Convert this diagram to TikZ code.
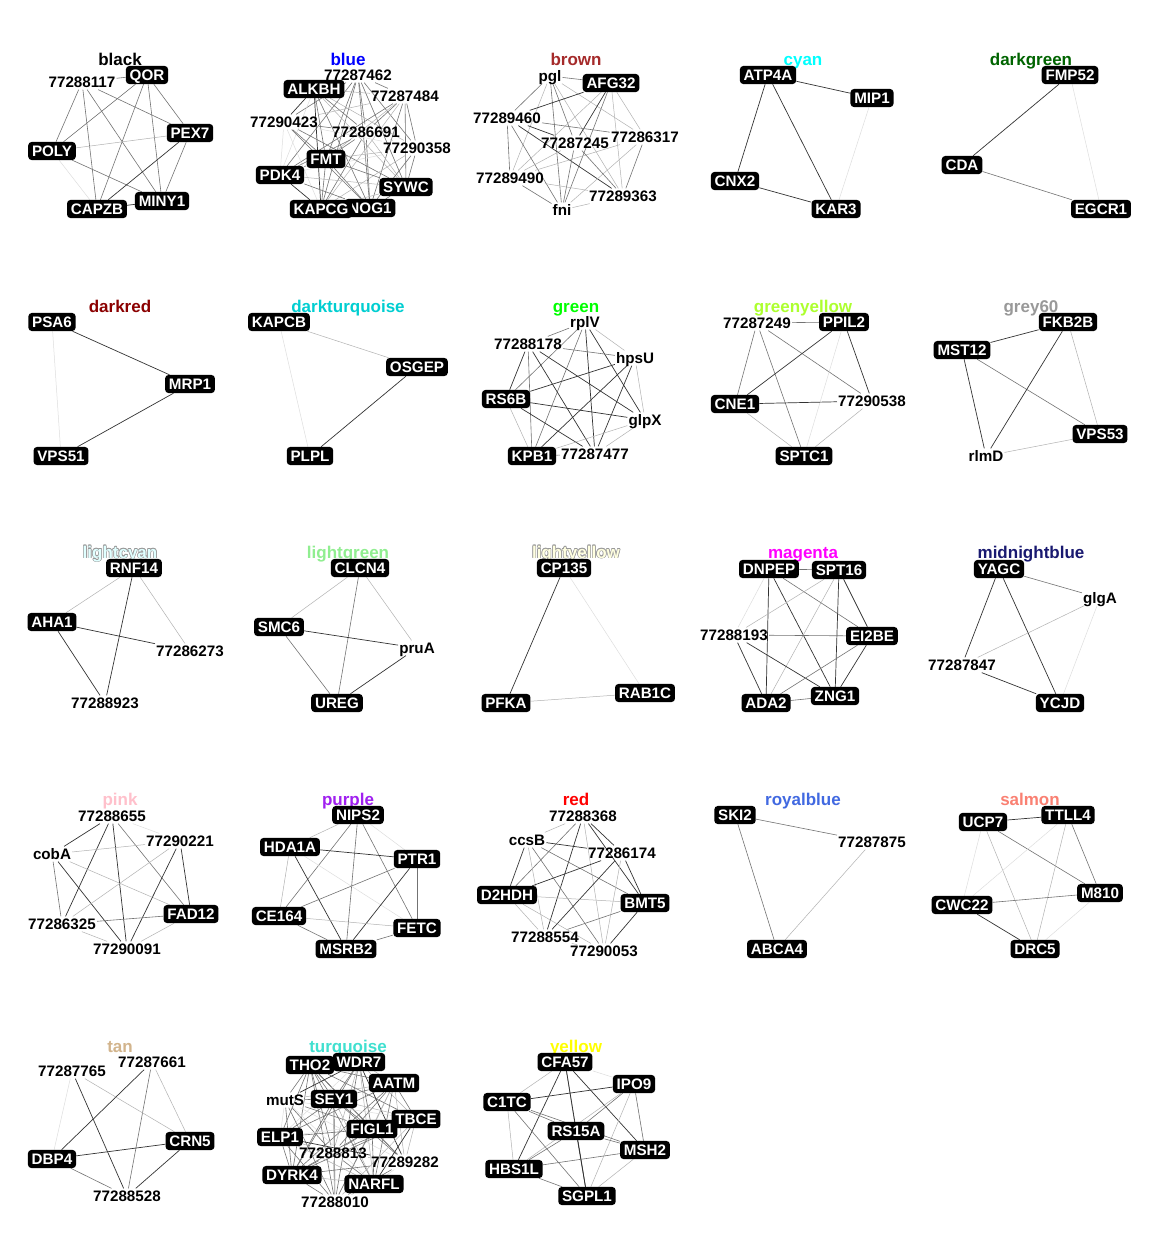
\documentclass[tikz,border=0pt]{standalone}
\usepackage{fontspec}
\setmainfont{Liberation Sans}
\usetikzlibrary{backgrounds}
\definecolor{cBrown}{HTML}{A52A2A}
\definecolor{cCyan}{HTML}{00FFFF}
\definecolor{cDarkgreen}{HTML}{006400}
\definecolor{cDarkred}{HTML}{8B0000}
\definecolor{cDarkturq}{HTML}{00CED1}
\definecolor{cGreen}{HTML}{00FF00}
\definecolor{cGreenyellow}{HTML}{ADFF2F}
\definecolor{cGrey}{HTML}{999999}
\definecolor{cLightcyan}{HTML}{E0FFFF}
\definecolor{cLightgreen}{HTML}{90EE90}
\definecolor{cLightyellow}{HTML}{FFFFE0}
\definecolor{cMagenta}{HTML}{FF00FF}
\definecolor{cMidnight}{HTML}{191970}
\definecolor{cPink}{HTML}{FFC0CB}
\definecolor{cPurple}{HTML}{A020F0}
\definecolor{cRed}{HTML}{FF0000}
\definecolor{cRoyal}{HTML}{4169E1}
\definecolor{cSalmon}{HTML}{FA8072}
\definecolor{cTan}{HTML}{D2B48C}
\definecolor{cTurq}{HTML}{40E0D0}
\definecolor{cYellow}{HTML}{FFFF00}
\definecolor{cBlue}{HTML}{0000FF}
% title drawn with a thin grey rim (for very pale module colours)
\newcommand\rimtitle[3]{%
  \foreach \dx/\dy in {0.6/0,-0.6/0,0/0.6,0/-0.6,0.45/0.45,-0.45/0.45,0.45/-0.45,-0.45/-0.45}
    {\node[ttl,text=black!40,xshift=\dx pt,yshift=\dy pt] at (#1) {#3};}
  \node[ttl,text=#2] at (#1) {#3};}
% all pairs among nodes #1-1 ... #1-#2, shade varying with the pair
\newcommand\allpairs[2]{%
  \pgfmathtruncatemacro\lastm{#2-1}%
  \foreach \i in {1,...,\lastm}{%
    \pgfmathtruncatemacro\nx{\i+1}%
    \foreach \j in {\nx,...,#2}{%
      \pgfmathtruncatemacro\k{mod(\i*7+\j*11+\i*\j,6)}%
      \ifcase\k \def\st{ed}\or\def\st{em}\or\def\st{el}\or\def\st{em}\or\def\st{ev}\else\def\st{el}\fi
      \draw[\st] (#1-\i) -- (#1-\j);}}}
\begin{document}
\begin{tikzpicture}[x=1pt,y=-1pt,
  gene/.style={fill=black,text=white,rounded corners=3.5pt,inner xsep=3.8pt,inner ysep=3.6pt,
    text height=10.9pt,text depth=0pt,font=\bfseries\fontsize{15.2}{16}\selectfont},
  lbl/.style={inner xsep=1pt,inner ysep=2pt,text height=10.9pt,text depth=0pt,
    font=\bfseries\fontsize{15.2}{16}\selectfont},
  ttl/.style={font=\bfseries\fontsize{17}{18}\selectfont,inner sep=0pt,anchor=base},
  ed/.style={draw=black!80,line width=0.7pt},
  em/.style={draw=black!55,line width=0.6pt},
  el/.style={draw=black!30,line width=0.5pt},
  ev/.style={draw=black!13,line width=0.5pt},
]
\begin{scope}[on background layer]
\fill[white] (0,0) rectangle (1152,1248);
\end{scope}
\useasboundingbox (0,0) rectangle (1152,1248);

% ---------------- black
\node[ttl,text=black] at (120,65) {black};
\node[lbl]  (k-n1)   at (82,82)   {77288117};
\node[gene] (k-qor)  at (147,75)  {QOR};
\node[gene] (k-pex)  at (190,133) {PEX7};
\node[gene] (k-poly) at (52,151)  {POLY};
\node[gene] (k-miny) at (162,201) {MINY1};
\node[gene] (k-capz) at (97,209)  {CAPZB};
\begin{scope}[on background layer]
\foreach \s/\a/\b in {em/k-n1/k-qor,em/k-n1/k-pex,em/k-n1/k-poly,em/k-n1/k-capz,em/k-n1/k-miny,
  em/k-qor/k-poly,em/k-qor/k-capz,em/k-qor/k-miny,em/k-qor/k-pex,el/k-poly/k-pex,em/k-poly/k-miny,
  ev/k-poly/k-capz,ed/k-pex/k-capz,em/k-pex/k-miny,ed/k-capz/k-miny}
  {\draw[\s] (\a) -- (\b);}
\end{scope}

% ---------------- blue
\node[ttl,text=cBlue] at (348,65) {blue};
\node[lbl]  (b-1)  at (358,75)  {77287462};
\node[gene] (b-2)  at (314,89)  {ALKBH};
\node[lbl]  (b-3)  at (405,96)  {77287484};
\node[lbl]  (b-4)  at (284,122) {77290423};
\node[lbl]  (b-5)  at (366,132) {77286691};
\node[lbl]  (b-6)  at (417,148) {77290358};
\node[gene] (b-7)  at (326,159) {FMT};
\node[gene] (b-8)  at (280,175) {PDK4};
\node[gene] (b-9)  at (406,187) {SYWC};
\node[gene] (b-11) at (370,208) {NOG1};
\node[gene] (b-10) at (321,209) {KAPCG};
\begin{scope}[on background layer]
\allpairs{b}{11}
\end{scope}

% ---------------- brown
\node[ttl,text=cBrown] at (576,65) {brown};
\node[lbl]  (br-pg) at (550,76)  {pgl};
\node[gene] (br-af) at (611,83)  {AFG32};
\node[lbl]  (br-a)  at (507,118) {77289460};
\node[lbl]  (br-b)  at (645,137) {77286317};
\node[lbl]  (br-c)  at (575,143) {77287245};
\node[lbl]  (br-d)  at (510,178) {77289490};
\node[lbl]  (br-e)  at (623,196) {77289363};
\node[lbl]  (br-f)  at (562,210) {fni};
\begin{scope}[on background layer]
\foreach \s/\a/\b in {em/br-pg/br-af,em/br-pg/br-a,em/br-pg/br-c,el/br-pg/br-b,el/br-pg/br-d,
  el/br-pg/br-e,em/br-pg/br-f,ed/br-af/br-a,ed/br-af/br-c,el/br-af/br-b,el/br-af/br-d,el/br-af/br-e,
  em/br-af/br-f,em/br-a/br-b,ed/br-a/br-c,em/br-a/br-d,ed/br-a/br-e,em/br-a/br-f,el/br-b/br-c,
  el/br-b/br-d,em/br-b/br-e,el/br-b/br-f,el/br-c/br-d,em/br-c/br-e,em/br-c/br-f,el/br-d/br-e,
  em/br-d/br-f,el/br-e/br-f}
  {\draw[\s] (\a) -- (\b);}
\end{scope}

% ---------------- cyan
\node[ttl,text=cCyan] at (803,65) {cyan};
\node[gene] (cy-atp) at (768,75)  {ATP4A};
\node[gene] (cy-mip) at (872,98)  {MIP1};
\node[gene] (cy-cnx) at (735,181) {CNX2};
\node[gene] (cy-kar) at (836,209) {KAR3};
\begin{scope}[on background layer]
\foreach \s/\a/\b in {ed/cy-atp/cy-mip,ed/cy-atp/cy-cnx,ed/cy-atp/cy-kar,ev/cy-mip/cy-kar,ed/cy-cnx/cy-kar}
  {\draw[\s] (\a) -- (\b);}
\end{scope}

% ---------------- darkgreen
\node[ttl,text=cDarkgreen] at (1031,65) {darkgreen};
\node[gene] (dg-fmp) at (1070,75)  {FMP52};
\node[gene] (dg-cda) at (962,165)  {CDA};
\node[gene] (dg-egc) at (1101,209) {EGCR1};
\begin{scope}[on background layer]
\foreach \s/\a/\b in {ed/dg-fmp/dg-cda,em/dg-cda/dg-egc,ev/dg-fmp/dg-egc}
  {\draw[\s] (\a) -- (\b);}
\end{scope}

% ---------------- darkred
\node[ttl,text=cDarkred] at (120,312) {darkred};
\node[gene] (dr-psa) at (52,322)  {PSA6};
\node[gene] (dr-mrp) at (190,384) {MRP1};
\node[gene] (dr-vps) at (61,456)  {VPS51};
\begin{scope}[on background layer]
\foreach \s/\a/\b in {ed/dr-psa/dr-mrp,ed/dr-mrp/dr-vps,ev/dr-psa/dr-vps}
  {\draw[\s] (\a) -- (\b);}
\end{scope}

% ---------------- darkturquoise
\node[ttl,text=cDarkturq] at (348,312) {darkturquoise};
\node[gene] (dt-kap) at (279,322) {KAPCB};
\node[gene] (dt-osg) at (417,367) {OSGEP};
\node[gene] (dt-plp) at (310,456) {PLPL};
\begin{scope}[on background layer]
\foreach \s/\a/\b in {el/dt-kap/dt-osg,ed/dt-osg/dt-plp,ev/dt-kap/dt-plp}
  {\draw[\s] (\a) -- (\b);}
\end{scope}

% ---------------- green
\node[ttl,text=cGreen] at (576,312) {green};
\node[lbl]  (gr-rp) at (585,322) {rplV};
\node[lbl]  (gr-a)  at (528,344) {77288178};
\node[lbl]  (gr-hp) at (635,358) {hpsU};
\node[gene] (gr-rs) at (506,399) {RS6B};
\node[lbl]  (gr-gl) at (645,420) {glpX};
\node[gene] (gr-kp) at (532,456) {KPB1};
\node[lbl]  (gr-z)  at (595,454) {77287477};
\begin{scope}[on background layer]
\foreach \s/\a/\b in {em/gr-rp/gr-a,el/gr-rp/gr-hp,em/gr-rp/gr-rs,ed/gr-rp/gr-gl,em/gr-rp/gr-kp,
  ed/gr-rp/gr-z,em/gr-a/gr-hp,ed/gr-a/gr-rs,ed/gr-a/gr-gl,em/gr-a/gr-kp,ed/gr-a/gr-z,ed/gr-hp/gr-rs,
  el/gr-hp/gr-gl,ed/gr-hp/gr-kp,ed/gr-hp/gr-z,ed/gr-rs/gr-gl,el/gr-rs/gr-kp,ed/gr-rs/gr-z,
  el/gr-gl/gr-kp,el/gr-gl/gr-z,em/gr-kp/gr-z}
  {\draw[\s] (\a) -- (\b);}
\end{scope}

% ---------------- greenyellow
\node[ttl,text=cGreenyellow] at (803,312) {greenyellow};
\node[lbl]  (gy-a)   at (757,323) {77287249};
\node[gene] (gy-ppi) at (844,322) {PPIL2};
\node[gene] (gy-cne) at (735,404) {CNE1};
\node[lbl]  (gy-b)   at (872,401) {77290538};
\node[gene] (gy-spt) at (804,456) {SPTC1};
\begin{scope}[on background layer]
\foreach \s/\a/\b in {em/gy-a/gy-ppi,em/gy-a/gy-cne,em/gy-a/gy-spt,em/gy-a/gy-b,ed/gy-ppi/gy-cne,
  ed/gy-ppi/gy-b,ev/gy-ppi/gy-spt,ed/gy-cne/gy-b,el/gy-cne/gy-spt,el/gy-b/gy-spt}
  {\draw[\s] (\a) -- (\b);}
\end{scope}

% ---------------- grey60
\node[ttl,text=cGrey] at (1031,312) {grey60};
\node[gene] (g6-fkb) at (1068,322) {FKB2B};
\node[gene] (g6-mst) at (962,350)  {MST12};
\node[gene] (g6-vps) at (1100,434) {VPS53};
\node[lbl]  (g6-rlm) at (986,456)  {rlmD};
\begin{scope}[on background layer]
\foreach \s/\a/\b in {ed/g6-fkb/g6-mst,em/g6-mst/g6-vps,ed/g6-mst/g6-rlm,ed/g6-fkb/g6-rlm,
  el/g6-fkb/g6-vps,el/g6-rlm/g6-vps}
  {\draw[\s] (\a) -- (\b);}
\end{scope}

% ---------------- lightcyan
\rimtitle{120,558}{cLightcyan}{lightcyan}
\node[gene] (lc-rnf) at (134,568) {RNF14};
\node[gene] (lc-aha) at (52,622)  {AHA1};
\node[lbl]  (lc-a)   at (190,651) {77286273};
\node[lbl]  (lc-b)   at (105,703) {77288923};
\begin{scope}[on background layer]
\foreach \s/\a/\b in {el/lc-rnf/lc-aha,el/lc-rnf/lc-a,ed/lc-rnf/lc-b,ed/lc-aha/lc-a,ed/lc-aha/lc-b}
  {\draw[\s] (\a) -- (\b);}
\end{scope}

% ---------------- lightgreen
\node[ttl,text=cLightgreen] at (348,558) {lightgreen};
\node[gene] (lg-clc) at (360,568) {CLCN4};
\node[gene] (lg-smc) at (279,627) {SMC6};
\node[lbl]  (lg-pru) at (417,648) {pruA};
\node[gene] (lg-ure) at (337,703) {UREG};
\begin{scope}[on background layer]
\foreach \s/\a/\b in {el/lg-clc/lg-smc,el/lg-clc/lg-pru,em/lg-clc/lg-ure,ed/lg-smc/lg-pru,
  em/lg-smc/lg-ure,ed/lg-pru/lg-ure}
  {\draw[\s] (\a) -- (\b);}
\end{scope}

% ---------------- lightyellow
\rimtitle{576,558}{cLightyellow}{lightyellow}
\node[gene] (ly-cp)  at (564,568) {CP135};
\node[gene] (ly-pf)  at (506,703) {PFKA};
\node[gene] (ly-rab) at (645,693) {RAB1C};
\begin{scope}[on background layer]
\foreach \s/\a/\b in {ed/ly-cp/ly-pf,ev/ly-cp/ly-rab,el/ly-pf/ly-rab}
  {\draw[\s] (\a) -- (\b);}
\end{scope}

% ---------------- magenta
\node[ttl,text=cMagenta] at (803,558) {magenta};
\node[gene] (mg-dnp) at (769,569) {DNPEP};
\node[gene] (mg-spt) at (839,570) {SPT16};
\node[lbl]  (mg-a)   at (734,635) {77288193};
\node[gene] (mg-ei)  at (872,636) {EI2BE};
\node[gene] (mg-zng) at (835,696) {ZNG1};
\node[gene] (mg-ada) at (766,703) {ADA2};
\begin{scope}[on background layer]
\foreach \s/\a/\b in {em/mg-dnp/mg-spt,ev/mg-dnp/mg-a,ed/mg-dnp/mg-ada,ed/mg-dnp/mg-zng,
  em/mg-dnp/mg-ei,el/mg-spt/mg-a,el/mg-spt/mg-ada,ed/mg-spt/mg-zng,ed/mg-spt/mg-ei,em/mg-a/mg-ei,
  ed/mg-a/mg-zng,ed/mg-a/mg-ada,em/mg-ei/mg-ada,ed/mg-ei/mg-zng,em/mg-ada/mg-zng}
  {\draw[\s] (\a) -- (\b);}
\end{scope}

% ---------------- midnightblue
\node[ttl,text=cMidnight] at (1031,558) {midnightblue};
\node[gene] (mb-yag) at (999,569)  {YAGC};
\node[lbl]  (mb-glg) at (1100,598) {glgA};
\node[lbl]  (mb-a)   at (962,665)  {77287847};
\node[gene] (mb-ycj) at (1060,703) {YCJD};
\begin{scope}[on background layer]
\foreach \s/\a/\b in {em/mb-yag/mb-glg,ed/mb-yag/mb-a,ed/mb-yag/mb-ycj,el/mb-glg/mb-a,
  ev/mb-glg/mb-ycj,ed/mb-a/mb-ycj}
  {\draw[\s] (\a) -- (\b);}
\end{scope}

% ---------------- pink
\node[ttl,text=cPink] at (120,805) {pink};
\node[lbl]  (pk-a)   at (112,816) {77288655};
\node[lbl]  (pk-b)   at (180,841) {77290221};
\node[lbl]  (pk-cob) at (52,854)  {cobA};
\node[gene] (pk-fad) at (191,914) {FAD12};
\node[lbl]  (pk-c)   at (62,924)  {77286325};
\node[lbl]  (pk-d)   at (127,949) {77290091};
\begin{scope}[on background layer]
\foreach \s/\a/\b in {ev/pk-a/pk-b,ed/pk-a/pk-cob,ed/pk-a/pk-c,ed/pk-a/pk-d,em/pk-a/pk-fad,
  el/pk-cob/pk-b,el/pk-cob/pk-fad,em/pk-cob/pk-c,ed/pk-cob/pk-d,el/pk-b/pk-c,ed/pk-b/pk-d,
  ed/pk-b/pk-fad,em/pk-fad/pk-c,el/pk-fad/pk-d,el/pk-c/pk-d}
  {\draw[\s] (\a) -- (\b);}
\end{scope}

% ---------------- purple
\node[ttl,text=cPurple] at (348,805) {purple};
\node[gene] (pu-nip) at (358,815) {NIPS2};
\node[gene] (pu-hda) at (290,847) {HDA1A};
\node[gene] (pu-ptr) at (417,859) {PTR1};
\node[gene] (pu-ce)  at (279,916) {CE164};
\node[gene] (pu-fet) at (417,928) {FETC};
\node[gene] (pu-msr) at (346,949) {MSRB2};
\begin{scope}[on background layer]
\foreach \s/\a/\b in {el/pu-nip/pu-hda,ev/pu-nip/pu-ptr,em/pu-nip/pu-ce,em/pu-nip/pu-msr,
  em/pu-nip/pu-fet,ed/pu-hda/pu-ptr,el/pu-hda/pu-ce,ed/pu-hda/pu-msr,ev/pu-hda/pu-fet,
  em/pu-ptr/pu-ce,ed/pu-ptr/pu-msr,em/pu-ptr/pu-fet,el/pu-ce/pu-fet,em/pu-ce/pu-msr,em/pu-fet/pu-msr}
  {\draw[\s] (\a) -- (\b);}
\end{scope}

% ---------------- red
\node[ttl,text=cRed] at (576,805) {red};
\node[lbl]  (rd-a)  at (583,816) {77288368};
\node[lbl]  (rd-cc) at (527,840) {ccsB};
\node[lbl]  (rd-b)  at (622,853) {77286174};
\node[gene] (rd-d2) at (507,895) {D2HDH};
\node[gene] (rd-bm) at (645,903) {BMT5};
\node[lbl]  (rd-c)  at (545,937) {77288554};
\node[lbl]  (rd-e)  at (604,951) {77290053};
\begin{scope}[on background layer]
\foreach \s/\a/\b in {el/rd-a/rd-cc,ed/rd-a/rd-b,ed/rd-a/rd-bm,em/rd-a/rd-d2,ed/rd-a/rd-c,
  el/rd-a/rd-e,ed/rd-cc/rd-b,ed/rd-cc/rd-d2,em/rd-cc/rd-bm,el/rd-cc/rd-c,em/rd-cc/rd-e,
  ed/rd-b/rd-d2,ed/rd-b/rd-bm,ed/rd-b/rd-c,el/rd-b/rd-e,el/rd-d2/rd-bm,el/rd-d2/rd-c,
  el/rd-d2/rd-e,em/rd-bm/rd-c,ed/rd-bm/rd-e,el/rd-c/rd-e}
  {\draw[\s] (\a) -- (\b);}
\end{scope}

% ---------------- royalblue
\node[ttl,text=cRoyal] at (803,805) {royalblue};
\node[gene] (rb-ski) at (735,815) {SKI2};
\node[lbl]  (rb-a)   at (872,842) {77287875};
\node[gene] (rb-abc) at (777,949) {ABCA4};
\begin{scope}[on background layer]
\foreach \s/\a/\b in {em/rb-ski/rb-a,em/rb-ski/rb-abc,el/rb-a/rb-abc}
  {\draw[\s] (\a) -- (\b);}
\end{scope}

% ---------------- salmon
\node[ttl,text=cSalmon] at (1030,805) {salmon};
\node[gene] (sa-ucp) at (983,822)  {UCP7};
\node[gene] (sa-ttl) at (1068,815) {TTLL4};
\node[gene] (sa-m8)  at (1100,893) {M810};
\node[gene] (sa-cwc) at (962,905)  {CWC22};
\node[gene] (sa-drc) at (1035,949) {DRC5};
\begin{scope}[on background layer]
\foreach \s/\a/\b in {ed/sa-ucp/sa-ttl,em/sa-ucp/sa-m8,ev/sa-ucp/sa-cwc,el/sa-ucp/sa-drc,
  ev/sa-ttl/sa-cwc,el/sa-ttl/sa-drc,em/sa-ttl/sa-m8,em/sa-cwc/sa-m8,ed/sa-cwc/sa-drc,ev/sa-m8/sa-drc}
  {\draw[\s] (\a) -- (\b);}
\end{scope}

% ---------------- tan
\node[ttl,text=cTan] at (120,1052) {tan};
\node[lbl]  (ta-a)   at (72,1071)  {77287765};
\node[lbl]  (ta-b)   at (152,1062) {77287661};
\node[gene] (ta-crn) at (190,1141) {CRN5};
\node[gene] (ta-dbp) at (52,1159)  {DBP4};
\node[lbl]  (ta-e)   at (127,1196) {77288528};
\begin{scope}[on background layer]
\foreach \s/\a/\b in {ed/ta-a/ta-e,ed/ta-b/ta-dbp,em/ta-b/ta-e,el/ta-b/ta-crn,ev/ta-a/ta-dbp,
  ed/ta-dbp/ta-crn,em/ta-dbp/ta-e,ed/ta-crn/ta-e,el/ta-a/ta-crn}
  {\draw[\s] (\a) -- (\b);}
\end{scope}

% ---------------- turquoise
\node[ttl,text=cTurq] at (348,1052) {turquoise};
\node[gene] (tq-1)  at (310,1065) {THO2};
\node[gene] (tq-2)  at (359,1062) {WDR7};
\node[gene] (tq-3)  at (394,1083) {AATM};
\node[lbl]  (tq-4)  at (285,1100) {mutS};
\node[gene] (tq-5)  at (334,1099) {SEY1};
\node[gene] (tq-6)  at (416,1119) {TBCE};
\node[gene] (tq-7)  at (372,1129) {FIGL1};
\node[gene] (tq-8)  at (280,1137) {ELP1};
\node[lbl]  (tq-9)  at (333,1153) {77288813};
\node[lbl]  (tq-10) at (405,1162) {77289282};
\node[gene] (tq-11) at (292,1175) {DYRK4};
\node[gene] (tq-12) at (374,1184) {NARFL};
\node[lbl]  (tq-13) at (335,1202) {77288010};
\begin{scope}[on background layer]
\allpairs{tq}{13}
\end{scope}

% ---------------- yellow
\node[ttl,text=cYellow] at (576,1052) {yellow};
\node[gene] (ye-cfa) at (565,1062) {CFA57};
\node[gene] (ye-ipo) at (634,1084) {IPO9};
\node[gene] (ye-c1)  at (507,1102) {C1TC};
\node[gene] (ye-rs)  at (576,1131) {RS15A};
\node[gene] (ye-msh) at (645,1150) {MSH2};
\node[gene] (ye-hbs) at (514,1169) {HBS1L};
\node[gene] (ye-sgp) at (587,1196) {SGPL1};
\begin{scope}[on background layer]
\foreach \s/\a/\b in {ev/ye-cfa/ye-ipo,el/ye-cfa/ye-c1,em/ye-cfa/ye-rs,ed/ye-cfa/ye-msh,
  ed/ye-cfa/ye-hbs,ed/ye-cfa/ye-sgp,ed/ye-ipo/ye-c1,em/ye-ipo/ye-rs,em/ye-ipo/ye-msh,
  el/ye-ipo/ye-hbs,el/ye-ipo/ye-sgp,em/ye-c1/ye-rs,em/ye-c1/ye-msh,el/ye-c1/ye-hbs,
  em/ye-c1/ye-sgp,em/ye-rs/ye-msh,em/ye-rs/ye-hbs,ed/ye-rs/ye-sgp,em/ye-msh/ye-hbs,
  el/ye-msh/ye-sgp,em/ye-hbs/ye-sgp}
  {\draw[\s] (\a) -- (\b);}
\end{scope}
\end{tikzpicture}
\end{document}
